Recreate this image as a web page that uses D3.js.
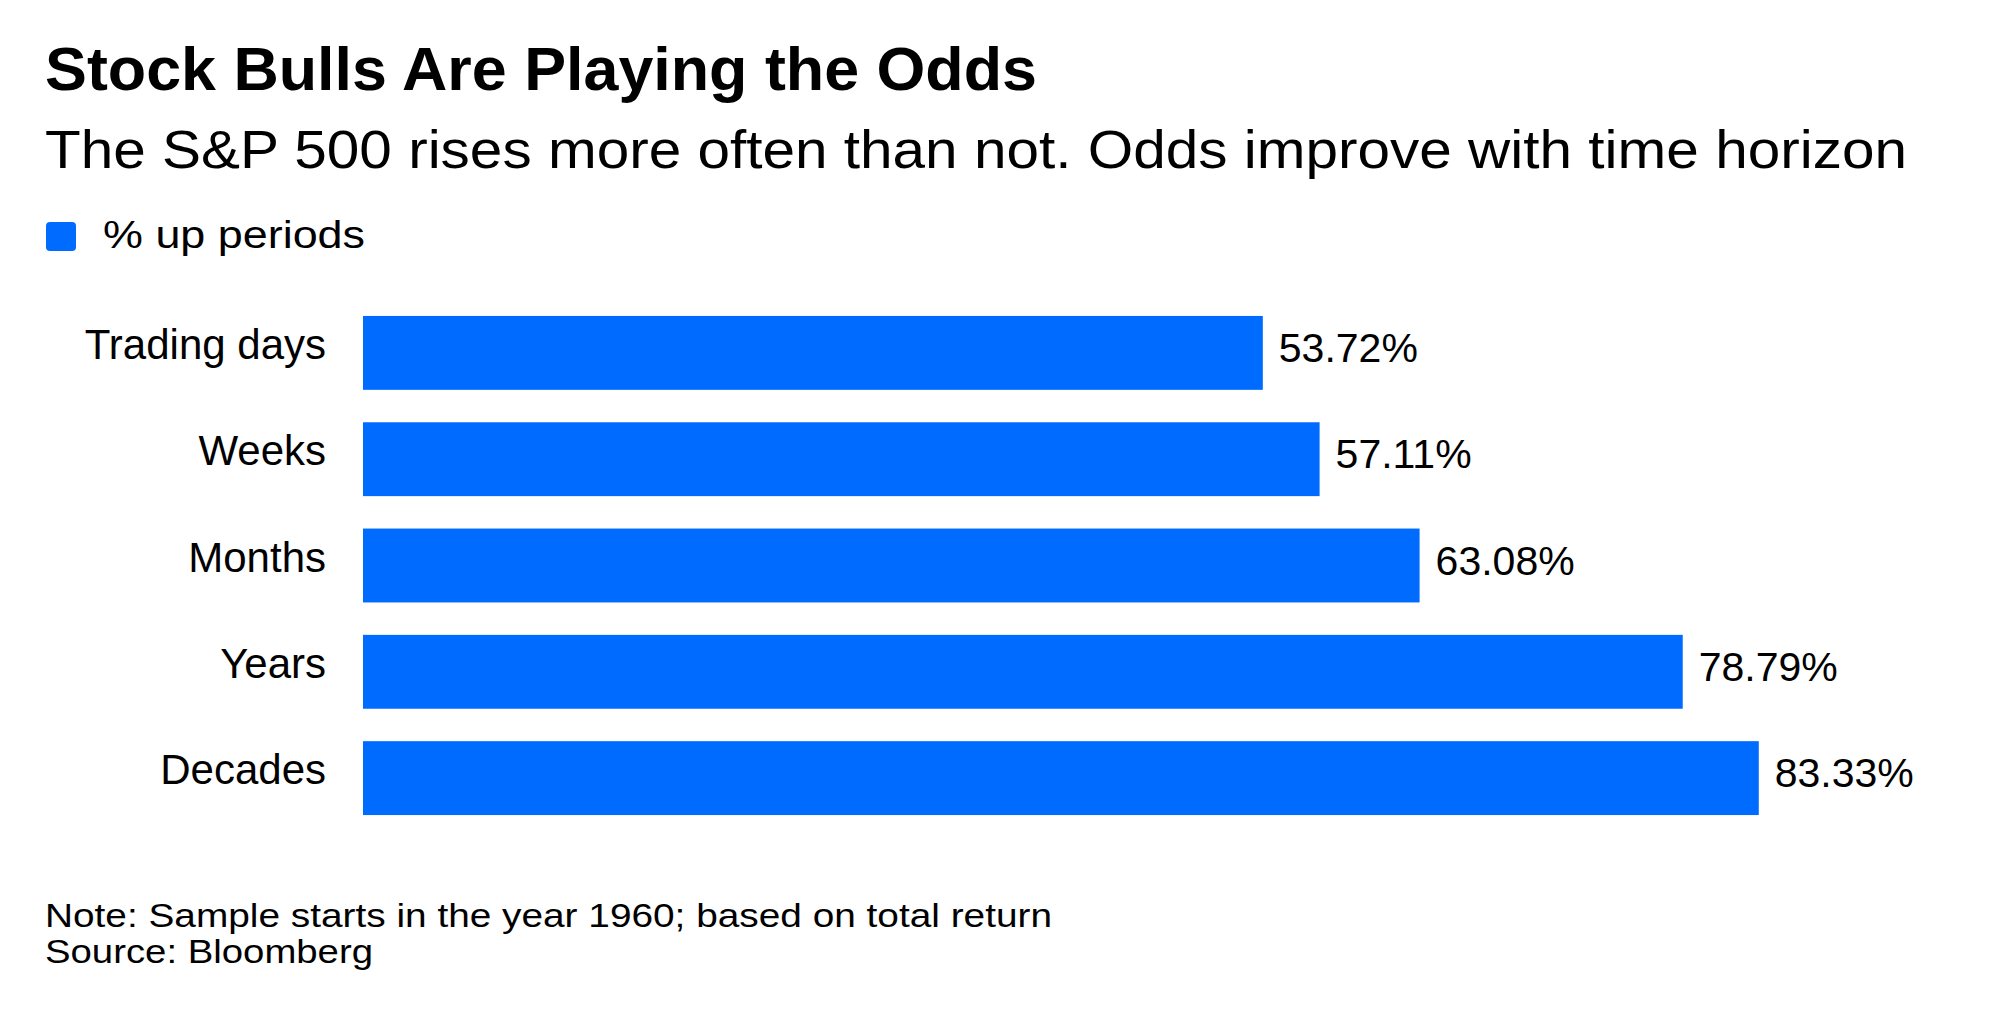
<!DOCTYPE html>
<html>
<head>
<meta charset="utf-8">
<script src="https://cdn.jsdelivr.net/npm/d3@7"></script>
<style>
	body { margin: 0; background: #fff; }
	text { font-family: "Liberation Sans", Arial, sans-serif; fill: #000; }
</style>
</head>
<body>
<svg id="chart"></svg>
<script>
'use strict'

var WIDTH = 2000,
	HEIGHT = 1023;

// data
var categories = ["Trading days", "Weeks", "Months", "Years", "Decades"];
var upShare = [53.72, 57.11, 63.08, 78.79, 83.33];
var seriesName = "% up periods";

var titleText = "Stock Bulls Are Playing the Odds";
var subtitleText = "The S&P 500 rises more often than not. Odds improve with time horizon";
var noteText = "Note: Sample starts in the year 1960; based on total return";
var sourceText = "Source: Bloomberg";

var barColor = "#006bff";

var svg = d3.select("#chart")
	.attr("width", WIDTH)
	.attr("height", HEIGHT);

svg.append("rect")
	.attr("width", WIDTH)
	.attr("height", HEIGHT)
	.style("fill", "#fff");

// headline block
svg.append("text")
	.attr("x", 45)
	.attr("y", 90)
	.attr("textLength", 992)
	.attr("lengthAdjust", "spacingAndGlyphs")
	.style("font-size", "61px")
	.style("font-weight", "bold")
	.text(titleText);

svg.append("text")
	.attr("x", 45)
	.attr("y", 168)
	.attr("textLength", 1862)
	.attr("lengthAdjust", "spacingAndGlyphs")
	.style("font-size", "53px")
	.text(subtitleText);

// legend
svg.append("rect")
	.attr("x", 46)
	.attr("y", 222)
	.attr("width", 30)
	.attr("height", 29)
	.attr("rx", 4)
	.style("fill", barColor);

svg.append("text")
	.attr("x", 103)
	.attr("y", 248)
	.attr("textLength", 262)
	.attr("lengthAdjust", "spacingAndGlyphs")
	.style("font-size", "39px")
	.text(seriesName);

// scales
var x = d3.scaleLinear()
	.domain([0, 100])
	.range([363, 2038]);

var y = d3.scaleBand()
	.domain(categories)
	.range([300, 831])
	.paddingInner(0.305)
	.paddingOuter(0.15);

var rows = svg.selectAll(".row")
	.data(categories)
	.enter()
	.append("g")
	.attr("class", "row");

rows.append("rect")
	.attr("x", x(0))
	.attr("y", function (d) {
		return y(d);
	})
	.attr("width", function (d, i) {
		return x(upShare[i]) - x(0);
	})
	.attr("height", y.bandwidth())
	.style("fill", barColor);

// category labels, right aligned left of the bars
rows.append("text")
	.attr("x", x(0) - 37)
	.attr("y", function (d) {
		return y(d) + 43;
	})
	.attr("text-anchor", "end")
	.style("font-size", "42px")
	.text(function (d) {
		return d;
	});

// value labels at bar ends
rows.append("text")
	.attr("x", function (d, i) {
		return x(upShare[i]) + 16;
	})
	.attr("y", function (d) {
		return y(d) + 46;
	})
	.style("font-size", "41px")
	.text(function (d, i) {
		return upShare[i].toFixed(2) + "%";
	});

// footer
svg.append("text")
	.attr("x", 45)
	.attr("y", 927)
	.attr("textLength", 1007)
	.attr("lengthAdjust", "spacingAndGlyphs")
	.style("font-size", "33px")
	.text(noteText);

svg.append("text")
	.attr("x", 45)
	.attr("y", 963)
	.attr("textLength", 328)
	.attr("lengthAdjust", "spacingAndGlyphs")
	.style("font-size", "33px")
	.text(sourceText);
</script>
</body>
</html>
